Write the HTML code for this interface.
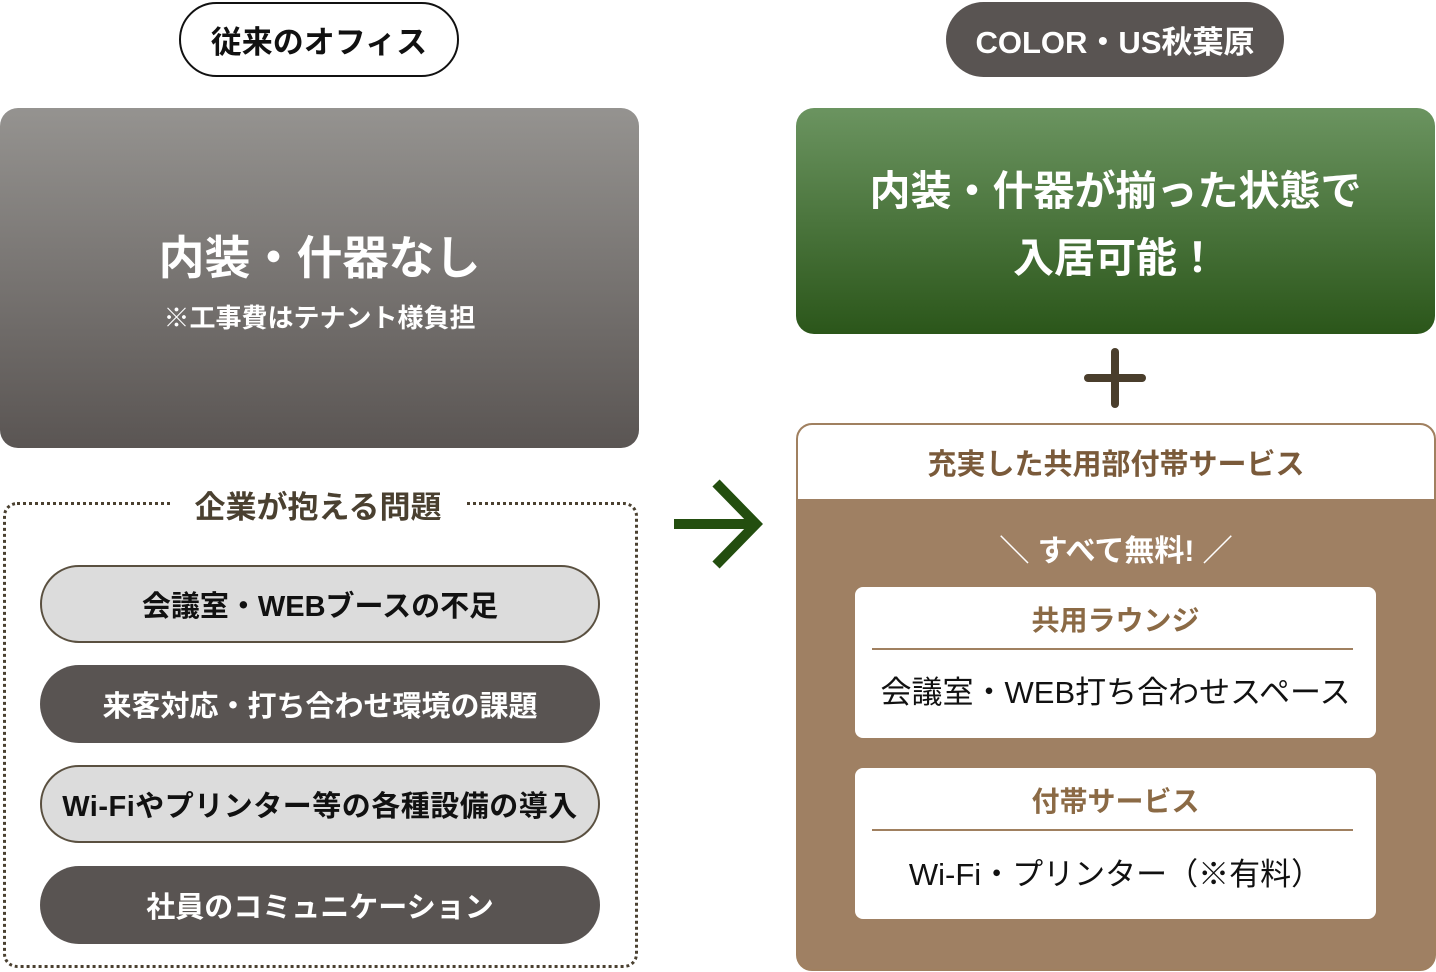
<!DOCTYPE html>
<html><head><meta charset="utf-8"><style>
body{margin:0;width:1436px;height:972px;background:#fff;position:relative;overflow:hidden;font-family:"Liberation Sans","Noto Sans CJK JP",sans-serif;font-weight:bold}
.a{position:absolute;box-sizing:border-box}
.c{display:flex;align-items:center;justify-content:center;text-align:center}
</style></head><body>
<div class="a c" style="left:179px;top:2px;width:280px;height:75px;border:2px solid #111;border-radius:38px;font-size:31px;color:#111">従来のオフィス</div>
<div class="a c" style="left:946px;top:2px;width:338px;height:75px;background:#595452;border-radius:38px;font-size:31px;color:#fff">COLOR・US秋葉原</div>

<div class="a" style="left:0;top:108px;width:639px;height:340px;border-radius:18px;background:linear-gradient(#959390,#5a5553)"></div>
<div class="a" style="left:0;top:226px;width:639px;text-align:center;font-size:46px;color:#fff;line-height:64px">内装・什器なし</div>
<div class="a" style="left:0;top:300px;width:639px;text-align:center;font-size:26px;color:#fff;line-height:36px">※工事費はテナント様負担</div>

<div class="a" style="left:3px;top:502px;width:635px;height:466px;border:3px dotted #4a4030;border-radius:14px"></div>
<div class="a c" style="left:172px;top:482px;width:292px;height:44px;background:#fff;font-size:31px;color:#4a4030">企業が抱える問題</div>
<div class="a c" style="left:40px;top:565px;width:560px;height:78px;background:#dcdcdc;border:2px solid #5a5040;border-radius:40px;font-size:29px;color:#111">会議室・WEBブースの不足</div>
<div class="a c" style="left:40px;top:665px;width:560px;height:78px;background:#595452;border-radius:40px;font-size:29px;color:#fff">来客対応・打ち合わせ環境の課題</div>
<div class="a c" style="left:40px;top:765px;width:560px;height:78px;background:#dcdcdc;border:2px solid #5a5040;border-radius:40px;font-size:29px;color:#111;letter-spacing:0.5px">Wi-Fiやプリンター等の各種設備の導入</div>
<div class="a c" style="left:40px;top:866px;width:560px;height:78px;background:#595452;border-radius:40px;font-size:29px;color:#fff">社員のコミュニケーション</div>

<svg class="a" style="left:670px;top:478px" width="95" height="95"><g stroke="#234e0f" stroke-width="10" fill="none"><line x1="4" y1="46" x2="84" y2="46"/><polyline points="46,5 86,46 46,87"/></g></svg>

<div class="a" style="left:796px;top:108px;width:639px;height:226px;border-radius:18px;background:linear-gradient(#6b9460,#2b561a)"></div>
<div class="a" style="left:796px;top:158px;width:639px;text-align:center;font-size:41px;color:#fff;line-height:67px">内装・什器が揃った状態で<br>入居可能！</div>

<svg class="a" style="left:1080px;top:345px" width="70" height="66"><g stroke="#4a3e2c" stroke-width="8" stroke-linecap="round"><line x1="35" y1="7" x2="35" y2="59"/><line x1="8" y1="33" x2="62" y2="33"/></g></svg>

<div class="a" style="left:796px;top:423px;width:640px;height:548px;border:2px solid #a08060;border-radius:16px;background:#9f8063;overflow:hidden">
<div class="a c" style="left:0;top:0;width:100%;height:74px;background:#fff;font-size:29px;color:#7a5a3a">充実した共用部付帯サービス</div>
</div>
<div class="a" style="left:796px;top:530px;width:640px;text-align:center;font-size:30px;color:#fff;line-height:44px">＼ すべて無料! ／</div>

<div class="a" style="left:855px;top:587px;width:521px;height:151px;background:#fff;border-radius:8px"></div>
<div class="a" style="left:855px;top:602px;width:521px;text-align:center;font-size:28px;color:#8b6a45;line-height:38px">共用ラウンジ</div>
<div class="a" style="left:872px;top:648px;width:481px;height:2px;background:#a08060"></div>
<div class="a" style="left:855px;top:671px;width:521px;text-align:center;font-size:31px;font-weight:normal;color:#111;line-height:44px">会議室・WEB打ち合わせスペース</div>

<div class="a" style="left:855px;top:768px;width:521px;height:151px;background:#fff;border-radius:8px"></div>
<div class="a" style="left:855px;top:783px;width:521px;text-align:center;font-size:28px;color:#8b6a45;line-height:38px">付帯サービス</div>
<div class="a" style="left:872px;top:829px;width:481px;height:2px;background:#a08060"></div>
<div class="a" style="left:855px;top:853px;width:521px;text-align:center;font-size:31px;font-weight:normal;color:#111;line-height:44px">Wi-Fi・プリンター（※有料）</div>
</body></html>
